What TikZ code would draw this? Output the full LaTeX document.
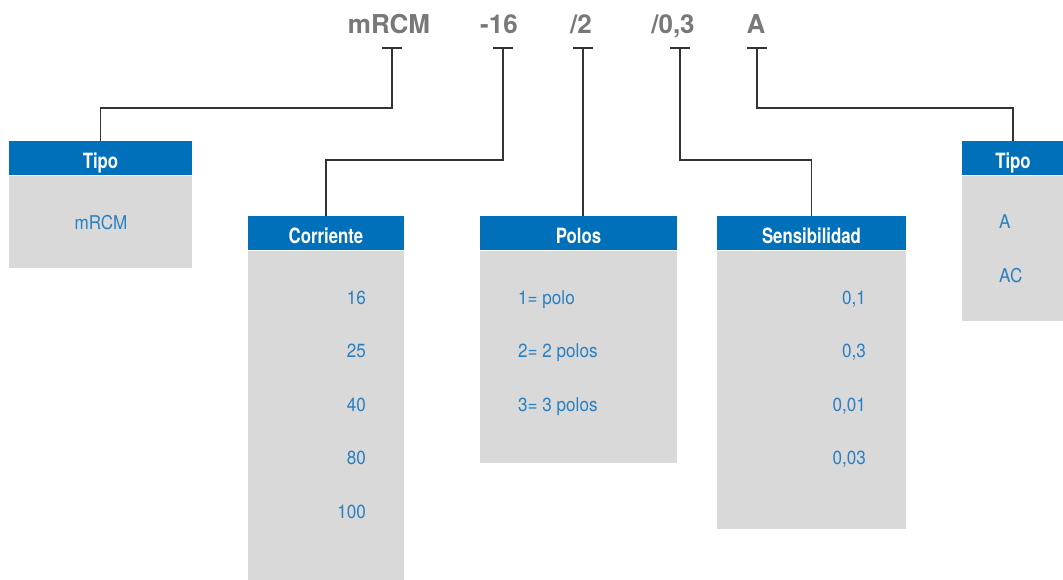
\documentclass[tikz,border=0pt]{standalone}
\usepackage{fontspec}
\setmainfont{TeX Gyre Heros}[FakeStretch=0.9]
\newfontfamily\headfont{TeX Gyre Heros}[FakeStretch=0.8]
\newfontfamily\codefont{TeX Gyre Heros}
\usepackage{xcolor}
\usepackage{tikz}
\usetikzlibrary{positioning}
\definecolor{headblue}{RGB}{0, 112, 186}
\definecolor{bodygray}{RGB}{217, 217, 217}
\definecolor{itemblue}{RGB}{42, 127, 192}
\definecolor{codegray}{RGB}{120, 120, 120}
\definecolor{linegray}{RGB}{51, 51, 51}

\begin{document}
\begin{tikzpicture}[x=1pt, y=-1pt, node distance=39.2pt]
  % Styles
  \tikzstyle{code} = [anchor=base, inner sep=0pt, text=codegray, font=\codefont\bfseries\fontsize{26}{26}\selectfont]
  \tikzstyle{head} = [rectangle, fill=headblue, text=white, inner sep=0pt, text height=21pt, text depth=0pt, minimum height=34pt, anchor=north, font=\headfont\bfseries\fontsize{21}{21}\selectfont]
  \tikzstyle{body} = [rectangle, fill=bodygray, inner sep=0pt]
  \tikzstyle{item} = [inner sep=0pt, text height=14pt, text depth=0pt, text=itemblue, font=\fontsize{19}{19}\selectfont]
  \tikzstyle{link} = [draw=linegray, line width=1.2pt]

  \useasboundingbox (0,0) rectangle (1063,580);

  % Code
  \node (cm) [code] at (389,34) {mRCM};
  \node (cc) [code] at (499,34) {-16};
  \node (cp) [code] at (581,34) {/2};
  \node (cs) [code] at (673,34) {/0,3};
  \node (ct) [code] at (756,34) {A};

  % Tipo
  \node (tipoa) [head, minimum width=183pt] at (100.5,141) {Tipo};
  \node (tipoab) [body, minimum width=183pt, minimum height=92pt, below=0pt of tipoa] {};
  \node (ma) [item] at (101,223) {mRCM};

  % Corriente
  \node (corr) [head, minimum width=156pt] at (326,216) {Corriente};
  \node (corrb) [body, minimum width=156pt, minimum height=340pt, below=0pt of corr] {};
  \node (c16) [item, anchor=east] at (366,297) {16};
  \node (c25) [item, below=of c16.south east, anchor=north east] {25};
  \node (c40) [item, below=of c25.south east, anchor=north east] {40};
  \node (c80) [item, below=of c40.south east, anchor=north east] {80};
  \node (c100) [item, below=of c80.south east, anchor=north east] {100};

  % Polos
  \node (pol) [head, minimum width=197pt] at (578.5,216) {Polos};
  \node (polb) [body, minimum width=197pt, minimum height=212pt, below=0pt of pol] {};
  \node (p1) [item, anchor=west] at (518,297) {1= polo};
  \node (p2) [item, below=of p1.south west, anchor=north west] {2= 2 polos};
  \node (p3) [item, below=of p2.south west, anchor=north west] {3= 3 polos};

  % Sensibilidad
  \node (sen) [head, minimum width=189pt] at (811.5,216) {Sensibilidad};
  \node (senb) [body, minimum width=189pt, minimum height=278pt, below=0pt of sen] {};
  \node (s1) [item, anchor=east] at (866,297) {0,1};
  \node (s2) [item, below=of s1.south east, anchor=north east] {0,3};
  \node (s3) [item, below=of s2.south east, anchor=north east] {0,01};
  \node (s4) [item, below=of s3.south east, anchor=north east] {0,03};

  % Tipo (right)
  \node (tipob) [head, minimum width=102pt] at (1013,141) {Tipo};
  \node (tipobb) [body, minimum width=102pt, minimum height=145pt, below=0pt of tipob] {};
  \node (ta) [item, anchor=west] at (999,222) {A};
  \node (tac) [item, below=of ta.south west, anchor=north west] {AC};

  % Marks
  \coordinate (mm) at (392,48);
  \coordinate (mc) at (503,48);
  \coordinate (mp) at (583,48);
  \coordinate (ms) at (680,48);
  \coordinate (mt) at (757,48);
  \draw [link] (mm) ++(-10,0) -- ++(20,0);
  \draw [link] (mc) ++(-10,0) -- ++(20,0);
  \draw [link] (mp) ++(-10,0) -- ++(20,0);
  \draw [link] (ms) ++(-10,0) -- ++(20,0);
  \draw [link] (mt) ++(-10,0) -- ++(20,0);

  % Connections
  \draw [link] (mm) -- ++(0,60) -| (tipoa.north);
  \draw [link] (mc) -- ++(0,112) -| (corr.north);
  \draw [link] (mp) -- (mp |- pol.north);
  \draw [link] (ms) -- ++(0,112) -| (sen.north);
  \draw [link] (mt) -- ++(0,60) -| (tipob.north);
\end{tikzpicture}
\end{document}
